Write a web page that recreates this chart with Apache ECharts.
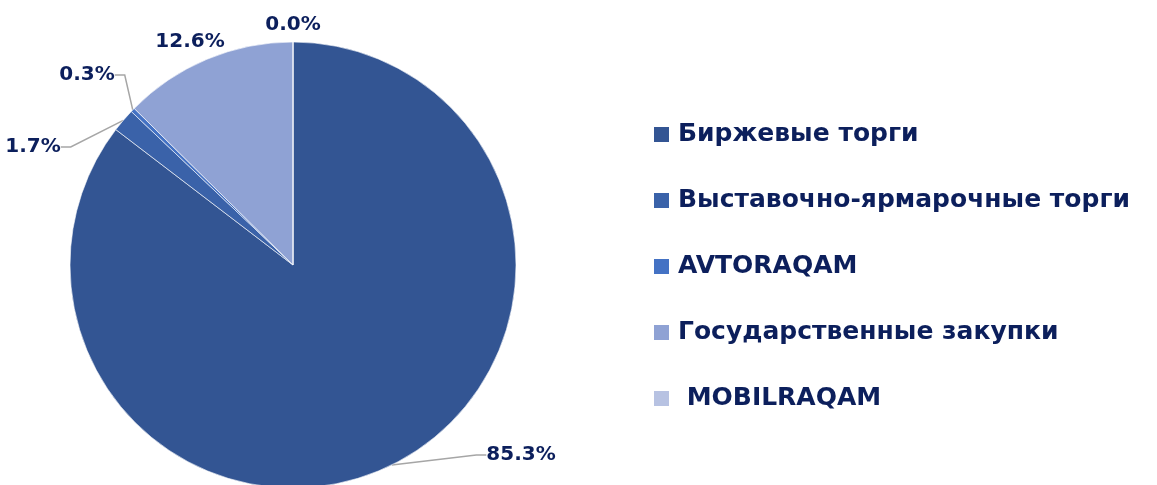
<!DOCTYPE html>
<html>
<head>
<meta charset="utf-8">
<script src="https://cdn.jsdelivr.net/npm/echarts@6/dist/echarts.min.js"></script>
<style>
  html, body { margin: 0; padding: 0; background: #fff; }
  #chart { width: 1157px; height: 485px; }
</style>
</head>
<body>
<div id="chart"></div>
<script>
"use strict";

const categories = ["Биржевые торги", "Выставочно-ярмарочные торги", "AVTORAQAM", "Государственные закупки", " MOBILRAQAM"];
const shares = [85.3, 1.7, 0.3, 12.6, 0.0];
const colors = ["#335593", "#3a62a9", "#4472c4", "#8fa2d4", "#b7c2e2"];
// label spots (centre of text) as in the original picture
const labelSpots = [[521, 455], [33, 147], [87, 75], [190, 42], [293, 25]];
const showLine = [true, true, true, false, false];

const TEXT = "#0c1f5c";
const FONT = "'DejaVu Sans', sans-serif";

const chart = echarts.init(document.getElementById("chart"), null, { renderer: "canvas" });

chart.setOption({
  animation: false,
  color: colors,
  legend: {
    orient: "vertical",
    left: 652,
    top: 122,
    padding: 0,
    icon: "rect",
    itemWidth: 17,
    itemHeight: 17,
    itemGap: 41,
    textStyle: { color: TEXT, fontFamily: FONT, fontWeight: "bold", fontSize: 25, lineHeight: 24, padding: [0, 0, 0, 3] },
    data: categories,
  },
  series: [{
    type: "pie",
    center: [293, 265],
    radius: 223,
    startAngle: 90,
    clockwise: true,
    minAngle: 0,
    avoidLabelOverlap: false,
    itemStyle: { borderColor: "#fff", borderWidth: 0.6 },
    label: {
      show: true,
      position: "outside",
      color: TEXT,
      fontFamily: FONT,
      fontWeight: "bold",
      fontSize: 20,
      formatter: (p) => p.value.toFixed(1) + "%",
    },
    labelLine: { show: true, length: 10, length2: 10, lineStyle: { color: "#a6a6a6", width: 1.5 } },
    labelLayout: (p) => ({
      x: labelSpots[p.dataIndex][0],
      y: labelSpots[p.dataIndex][1],
      align: "center",
      verticalAlign: "middle",
    }),
    data: categories.map((name, i) => ({
      name,
      value: shares[i],
      labelLine: { show: showLine[i] },
    })),
  }],
});
</script>
</body>
</html>
